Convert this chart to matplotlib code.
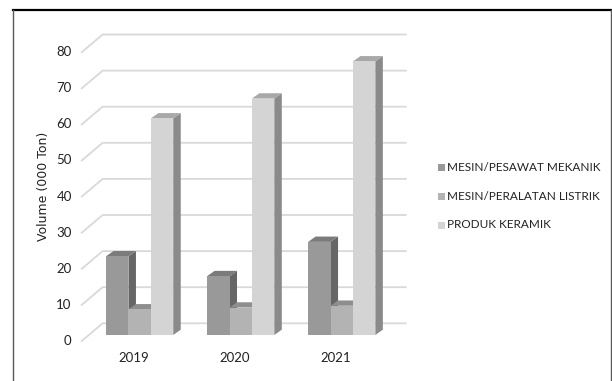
import matplotlib
matplotlib.use("Agg")
import matplotlib.pyplot as plt
from matplotlib.patches import Polygon, Rectangle
from matplotlib.lines import Line2D

# ---- data -------------------------------------------------------------
years = ["2019", "2020", "2021"]
series_names = ["MESIN/PESAWAT MEKANIK", "MESIN/PERALATAN LISTRIK", "PRODUK KERAMIK"]
mekanik = [21.8, 16.3, 25.8]
listrik = [7.1, 7.6, 8.1]
keramik = [60.0, 65.5, 75.8]
y_ticks = [0, 10, 20, 30, 40, 50, 60, 70, 80]
y_label = "Volume (000 Ton)"

series_values = [mekanik, listrik, keramik]

# ---- styling ----------------------------------------------------------
FONT = ["Lato", "DejaVu Sans"]
front_cols = ["#999999", "#b3b3b3", "#d4d4d4"]
top_cols = ["#7b7b7b", "#8e8e8e", "#a8a8a8"]
side_cols = ["#666666", "#7a7a7a", "#8a8a8a"]
grid_col = "#d9d9d9"

W, H = 612, 381
fig = plt.figure(figsize=(W / 100, H / 100), dpi=100)
ax = fig.add_axes([0, 0, 1, 1])
ax.set_axis_off()

# linear mapping of the plot plane onto the canvas
cat_px = 101.05    # pixels per category
val_px = 3.61      # pixels per value unit
x0_px = 139.65     # canvas x of first category centre
y0_px = 335.0      # canvas y (from top) of value 0
ax.set_xlim(-x0_px / cat_px, (W - x0_px) / cat_px)
ax.set_ylim(-(H - y0_px) / val_px, y0_px / val_px)


def dx(p):
    return p / cat_px


def dy(p):
    return p / val_px


# pseudo-3D offsets (pixels)
bar_depth = (7.5, 5.3)
back_off = (13.5, 11.7)
front_off = (-7.4, -6.0)

n_cat = len(years)
xl, xr = -0.5, n_cat - 0.5

# gridlines: floor diagonal + back wall line
for v in y_ticks:
    fx0, fy0 = xl + dx(front_off[0]), v + dy(front_off[1])
    bx0, by0 = xl + dx(back_off[0]), v + dy(back_off[1])
    bx1 = xr + dx(back_off[0])
    ax.add_line(Line2D([fx0, bx0, bx1], [fy0, by0, by0], color=grid_col,
                       lw=1.3, zorder=1, solid_joinstyle="miter"))
    ax.text(xl + dx(front_off[0] - 10), v + dy(front_off[1]), str(v),
            ha="right", va="center", fontsize=9.5, family=FONT, color="#222222")

# bars
bw = 22.4 / cat_px
offsets = [-bw, 0.0, bw]
z = 2
for ci in range(n_cat):
    for si, vals in enumerate(series_values):
        x = ci + offsets[si]
        h = vals[ci]
        x_l, x_r = x - bw / 2, x + bw / 2
        ddx, ddy = dx(bar_depth[0]), dy(bar_depth[1])
        side = Polygon([(x_r, 0), (x_r + ddx, ddy), (x_r + ddx, h + ddy), (x_r, h)],
                       closed=True, facecolor=side_cols[si], edgecolor="none", zorder=z)
        top = Polygon([(x_l, h), (x_l + ddx, h + ddy), (x_r + ddx, h + ddy), (x_r, h)],
                      closed=True, facecolor=top_cols[si], edgecolor="none", zorder=z)
        ax.add_patch(side)
        ax.add_patch(top)
        ax.bar([x], [h], width=bw, color=front_cols[si], edgecolor="none",
               linewidth=0, zorder=z + 0.5)
        z += 1

# category labels
for ci, yr in enumerate(years):
    ax.text(ci + dx(-6), dy(-23), yr, ha="center", va="center",
            fontsize=9.5, family=FONT, color="#222222")

# axis title
ax.text(43.7 / W, 1 - 186 / H, y_label, transform=ax.transAxes, rotation=90,
        ha="center", va="center", fontsize=9, family=["DejaVu Sans"], color="#222222")

# legend
legend_rows = [167.5, 196.7, 225.0]
for si, name in enumerate(series_names):
    yy = 1 - legend_rows[si] / H
    ax.add_patch(Rectangle((437.5 / W, yy - 3.5 / H), 7 / W, 7 / H,
                           transform=ax.transAxes, facecolor=front_cols[si],
                           edgecolor="none"))
    ax.text(447.3 / W, yy, name, transform=ax.transAxes, ha="left", va="center",
            fontsize=8.5, family=FONT, color="#222222")

# frame around the chart area
fig.add_artist(Line2D([13.3 / W, 1], [1 - 9.5 / H, 1 - 9.5 / H],
                      transform=fig.transFigure, color="black", lw=1.6))
fig.add_artist(Line2D([13.3 / W, 13.3 / W], [0, 1 - 9.5 / H],
                      transform=fig.transFigure, color="#5a5a5a", lw=1.0))
fig.add_artist(Line2D([610.5 / W, 610.5 / W], [0, 1 - 9.5 / H],
                      transform=fig.transFigure, color="#5a5a5a", lw=1.0))

fig.savefig("out.png", dpi=100)
